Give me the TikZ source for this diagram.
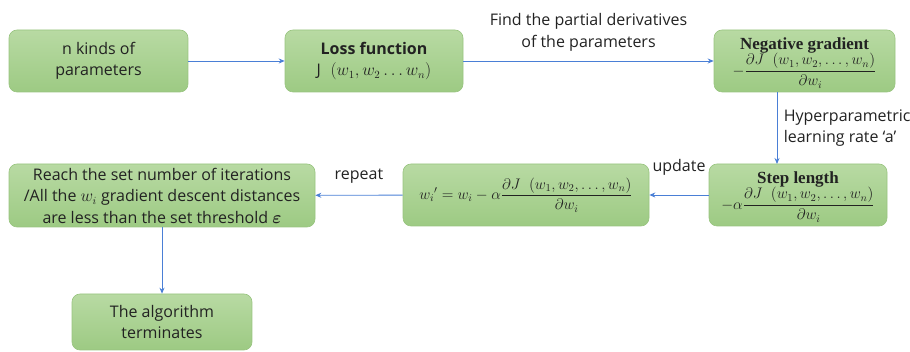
\documentclass[tikz,border=0pt]{standalone}
\usepackage{amsmath}
\usepackage{bm}
\usepackage{graphicx}
\usepackage{fontspec}
\setmainfont{Open Sans}
\newfontfamily\headserif{Liberation Serif}
\usetikzlibrary{arrows.meta}
\definecolor{boxtop}{HTML}{B8DAA3}
\definecolor{boxbot}{HTML}{9DCA83}
\definecolor{boxline}{HTML}{98C47F}
\definecolor{flow}{HTML}{4A7FD6}
\definecolor{ink}{HTML}{222222}
\tikzset{
  box/.style={draw=boxline, line width=0.6pt, rounded corners=8pt,
    top color=boxtop, bottom color=boxbot, text=ink, align=center,
    inner sep=0pt, font=\fontsize{16}{21.5}\selectfont},
  flowline/.style={draw=flow, line width=0.9pt, -{Stealth[length=6pt,width=5pt]}},
  tag/.style={text=ink, align=center, font=\fontsize{16}{21.5}\selectfont}
}
% display formula, scaled up a little from the nearest math size
\newcommand{\formula}[1]{\scalebox{1.06}{\fontsize{14.4}{18}\selectfont$\displaystyle #1$}}
% heading line plus a fraction below it, kept compact
\newcommand{\headfrac}[2]{%
  \begin{tabular}{@{}c@{}}{\headserif\bfseries\fontsize{17}{17}\selectfont #1}\\[-2pt]
  \formula{#2}\end{tabular}}
\begin{document}
\begin{tikzpicture}[x=1pt,y=-1pt]
\useasboundingbox (0,0) rectangle (910,352);
% top row
\node[box, minimum width=179pt, minimum height=62pt] (params) at (98.5,61) {n kinds of\\parameters};
\node[box, minimum width=178pt, minimum height=62pt] (loss) at (374,61)
  {\textbf{Loss function}\\$\mathrm{J}\;\;(w_1,w_2\ldots w_n)$};
\node[box, minimum width=181pt, minimum height=62pt] (neg) at (804.5,61)
  {\headfrac{Negative gradient}{-\frac{\partial J\;\;(w_1,w_2,\ldots,w_n)}{\partial w_i}}};
% middle row
\node[box, minimum width=178pt, minimum height=62pt] (steplen) at (798,195)
  {\headfrac{Step length}{-\alpha\frac{\partial J\;\;(w_1,w_2,\ldots,w_n)}{\partial w_i}}};
\node[box, minimum width=246pt, minimum height=62pt] (update) at (526,195)
  {\formula{w_i{}'=w_i-\alpha\frac{\partial J\;\;(w_1,w_2,\ldots,w_n)}{\partial w_i}}};
\node[box, minimum width=306pt, minimum height=63pt] (reach) at (162,195.5)
  {Reach the set number of iterations\\/All the $w_i$ gradient descent distances\\are less than the set threshold $\bm{\varepsilon}$};
% bottom
\node[box, minimum width=180pt, minimum height=56pt] (stop) at (162,322) {The algorithm\\terminates};
% connectors
\draw[flowline] (params) -- (loss);
\draw[flowline] (loss) -- node[tag, above=6pt] {Find the partial derivatives\\of the parameters} (neg);
\coordinate (negfoot) at (777,92);
\coordinate (stephead) at (777,164);
\draw[flowline] (negfoot) -- node[tag, right=3pt, align=left, pos=0.5] {Hyperparametric\\learning rate `a'} (stephead);
\draw[flowline] (steplen) -- node[tag, above=16pt] {update} (update);
\draw[flowline] (update) -- node[tag, above=8pt] {repeat} (reach);
\draw[flowline] (reach) -- (stop);
\end{tikzpicture}
\end{document}
